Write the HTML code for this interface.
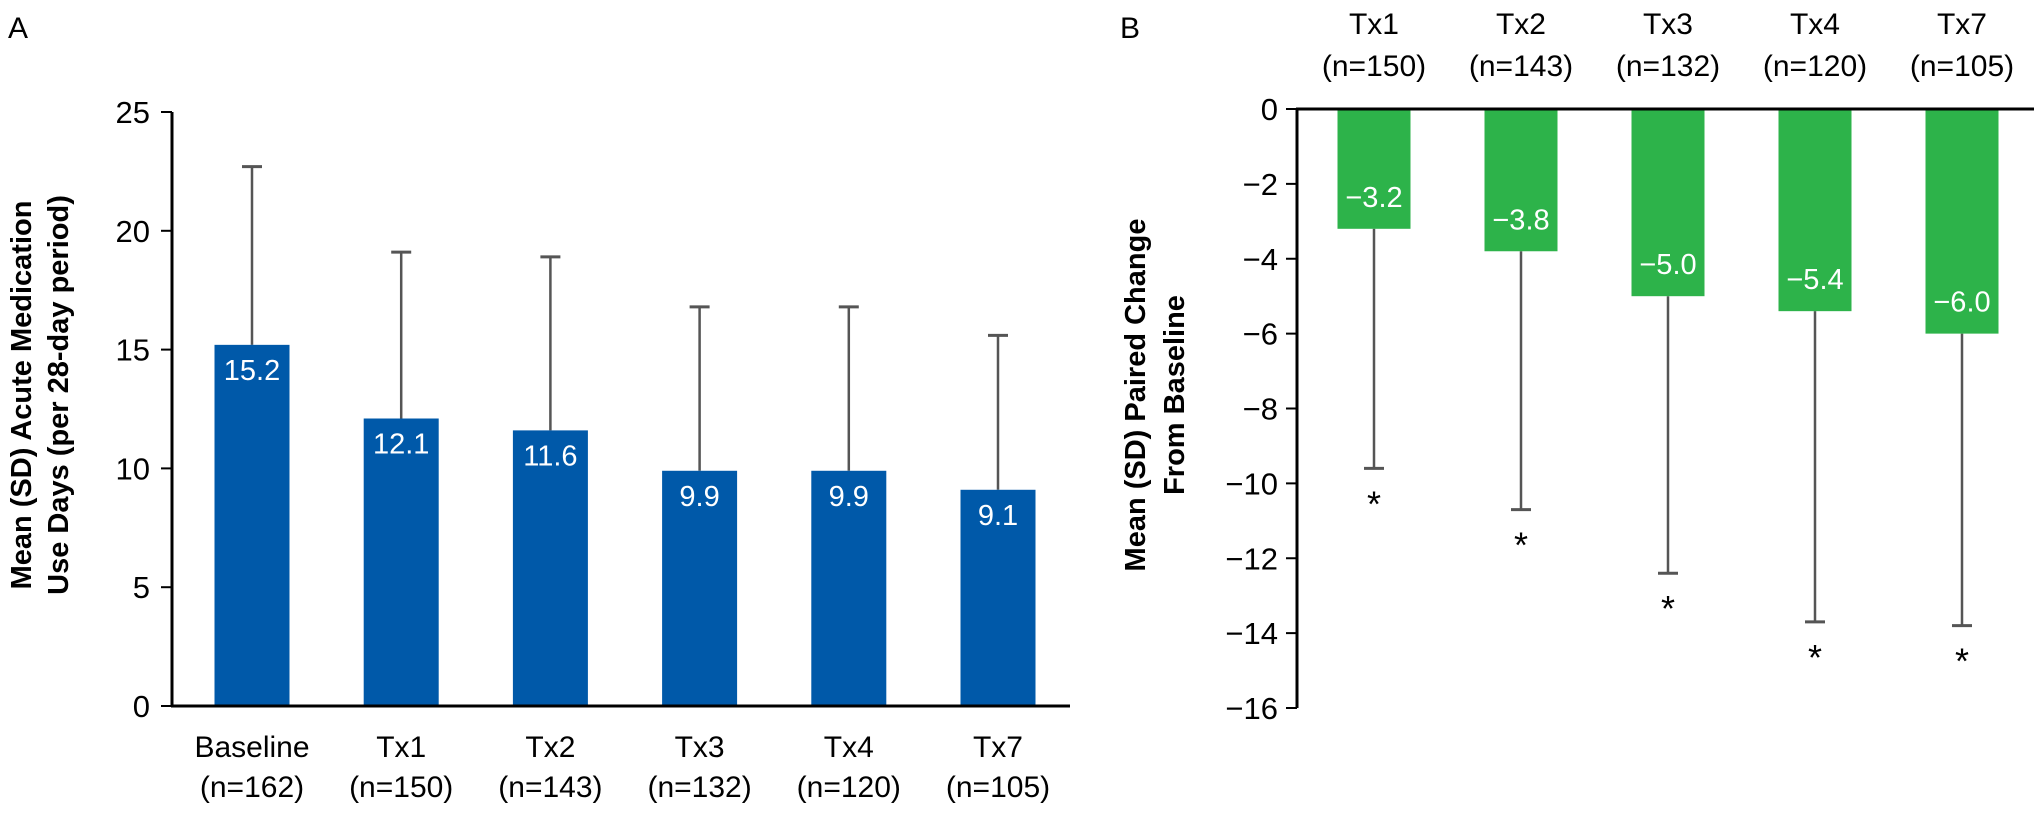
<!DOCTYPE html>
<html><head><meta charset="utf-8"><style>
html,body{margin:0;padding:0;background:#fff;}
svg{display:block;font-family:"Liberation Sans",Arial,sans-serif;}
</style></head><body>
<svg id="chart" width="2042" height="815" viewBox="0 0 2042 815" xmlns="http://www.w3.org/2000/svg">
<text x="8" y="38" font-size="30">A</text>
<text x="1120" y="38" font-size="30">B</text>
<g id="ga"></g>
<g id="gb"></g>
</svg>
<script>
const catsA = ["Baseline","Tx1","Tx2","Tx3","Tx4","Tx7"];
const nA = ["(n=162)","(n=150)","(n=143)","(n=132)","(n=120)","(n=105)"];
const meanA = [15.2,12.1,11.6,9.9,9.9,9.1];
const sdTopA = [22.7,19.1,18.9,16.8,16.8,15.6];
const ticksA = [0,5,10,15,20,25];

const catsB = ["Tx1","Tx2","Tx3","Tx4","Tx7"];
const nB = ["(n=150)","(n=143)","(n=132)","(n=120)","(n=105)"];
const meanB = [-3.2,-3.8,-5.0,-5.4,-6.0];
const sdLowB = [-9.6,-10.7,-12.4,-13.7,-13.8];
const ticksB = [0,-2,-4,-6,-8,-10,-12,-14,-16];

const NS="http://www.w3.org/2000/svg";
function mk(parent,tag,attrs,text){const e=document.createElementNS(NS,tag);for(const k in attrs)e.setAttribute(k,attrs[k]);if(text!==undefined)e.textContent=text;parent.appendChild(e);return e;}
function fmt(v){return v<0?"\u2212"+Math.abs(v).toFixed(1):v.toFixed(1);}

// Panel A
const ga=document.getElementById('ga');
const yA=v=>706-(v/25)*(706-112);
const xA=i=>252+i*149.2;
const bwA=75;
let e;
e=mk(ga,'line',{x1:172,y1:yA(25),x2:172,y2:yA(0),stroke:'#000','stroke-width':3});


ticksA.forEach(t=>{
  e=mk(ga,'line',{x1:161,y1:yA(t),x2:172,y2:yA(t),stroke:'#000','stroke-width':2});
  
  
  e=mk(ga,'text',{x:150,y:yA(t)+11,'font-size':31,'text-anchor':'end'},String(t));
  
  
});
catsA.forEach((c,i)=>{
  const cx=xA(i);
  e=mk(ga,'line',{x1:cx,y1:yA(meanA[i]),x2:cx,y2:yA(sdTopA[i]),stroke:'#555','stroke-width':2.5});
  
  
  e=mk(ga,'line',{x1:cx-10,y1:yA(sdTopA[i]),x2:cx+10,y2:yA(sdTopA[i]),stroke:'#555','stroke-width':3});
  
  
  e=mk(ga,'rect',{x:cx-bwA/2,y:yA(meanA[i]),width:bwA,height:yA(0)-yA(meanA[i]),fill:'#0059a9'});
  
  
  e=mk(ga,'text',{x:cx,y:yA(meanA[i])+35,'font-size':29,fill:'#fff','text-anchor':'middle'},fmt(meanA[i]));
  
  
  e=mk(ga,'text',{x:cx,y:757,'font-size':30,'text-anchor':'middle'},c);
  
  
  e=mk(ga,'text',{x:cx,y:797,'font-size':30,'text-anchor':'middle'},nA[i]);
  
  
});
e=mk(ga,'line',{x1:171,y1:yA(0),x2:1070,y2:yA(0),stroke:'#000','stroke-width':3});


e=mk(ga,'text',{transform:'translate(31,395) rotate(-90)','font-size':29,'font-weight':'bold','text-anchor':'middle'},'Mean (SD) Acute Medication');


e=mk(ga,'text',{transform:'translate(68,395) rotate(-90)','font-size':29,'font-weight':'bold','text-anchor':'middle'},'Use Days (per 28-day period)');



// Panel B
const gb=document.getElementById('gb');
const yB=v=>109+(-v/16)*(708-109);
const xB=i=>1374+i*147;
const bwB=73;
e=mk(gb,'line',{x1:1297,y1:yB(0),x2:1297,y2:yB(-16),stroke:'#000','stroke-width':3});


ticksB.forEach(t=>{
  e=mk(gb,'line',{x1:1286,y1:yB(t),x2:1297,y2:yB(t),stroke:'#000','stroke-width':2});
  
  
  e=mk(gb,'text',{x:1278,y:yB(t)+11,'font-size':31,'text-anchor':'end'},t<0?"\u2212"+Math.abs(t):String(t));
  
  
});
catsB.forEach((c,i)=>{
  const cx=xB(i);
  e=mk(gb,'line',{x1:cx,y1:yB(meanB[i]),x2:cx,y2:yB(sdLowB[i]),stroke:'#555','stroke-width':2.5});
  
  
  e=mk(gb,'line',{x1:cx-10,y1:yB(sdLowB[i]),x2:cx+10,y2:yB(sdLowB[i]),stroke:'#555','stroke-width':3});
  
  
  e=mk(gb,'text',{x:cx,y:yB(sdLowB[i])+48,'font-size':36,'text-anchor':'middle'},'*');
  
  
  e=mk(gb,'rect',{x:cx-bwB/2,y:yB(0),width:bwB,height:yB(meanB[i])-yB(0),fill:'#2db34a'});
  
  
  e=mk(gb,'text',{x:cx,y:yB(meanB[i])-22,'font-size':29,fill:'#fff','text-anchor':'middle'},fmt(meanB[i]));
  
  
  e=mk(gb,'text',{x:cx,y:34,'font-size':30,'text-anchor':'middle'},c);
  
  
  e=mk(gb,'text',{x:cx,y:76,'font-size':30,'text-anchor':'middle'},nB[i]);
  
  
});
e=mk(gb,'line',{x1:1296,y1:yB(0),x2:2034,y2:yB(0),stroke:'#000','stroke-width':3});


e=mk(gb,'text',{transform:'translate(1145,395) rotate(-90)','font-size':29,'font-weight':'bold','text-anchor':'middle'},'Mean (SD) Paired Change');


e=mk(gb,'text',{transform:'translate(1184,395) rotate(-90)','font-size':29,'font-weight':'bold','text-anchor':'middle'},'From Baseline');


</script>
</body></html>
